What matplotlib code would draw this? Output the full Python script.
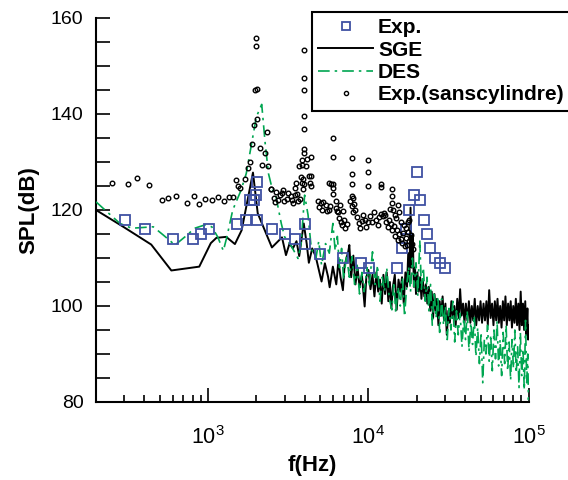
import matplotlib
matplotlib.use("Agg")
import matplotlib.pyplot as plt
import numpy as np

plt.rcParams['font.family'] = ['Liberation Sans', 'DejaVu Sans']

# Exp. (squares)
exp_f = [302, 402, 604, 809, 906, 1008, 1507, 1714, 1816, 1923, 1981, 2018, 2030,
         2502, 3015, 3497, 4040, 4040, 5003, 6966, 9020, 10020, 15130, 16100, 17140,
         17960, 19140, 20050, 21040, 22080, 23170, 24170, 26060, 28030, 30150]
exp_spl = [118.0, 116.0, 114.0, 114.0, 115.0, 116.0, 117.0, 118.0, 122.1, 122.1, 123.1, 125.9, 118.0,
           116.0, 115.0, 114.0, 117.0, 112.9, 110.9, 110.1, 109.0, 108.0, 108.0, 112.0, 116.0,
           120.0, 123.1, 127.9, 122.0, 118.0, 115.0, 112.0, 110.0, 109.0, 108.0]

# SGE (black line)
sge_f = [200, 296, 442, 590, 881, 1040, 1127, 1297, 1470, 1620, 1905, 2040, 2500, 2890,
         3060, 3220, 3380, 3560, 3700, 3950, 4120, 4250, 4460, 4690, 5100, 5350, 5600, 5730,
         6000, 6300, 6500, 6700, 6930, 7100, 7480, 7600, 7800, 8050, 8300, 8550, 8800, 9100,
         9470, 9700, 10000, 10300, 10600, 10900, 11200, 11500, 11800, 12100, 12400, 12700,
         13000, 13300, 13600, 13900, 14200, 14600, 15000, 15400, 15800, 16200, 16600, 17000,
         17400, 17700, 18000, 18300, 18600, 18900, 19200, 19500, 19800, 20200, 20600, 21000,
         21400, 21800, 22300, 22800, 23300, 23800, 24300, 24800, 25300, 25800, 26300, 26800,
         27300, 27800, 28400, 29000, 29600, 30200, 30800, 31500, 32200, 32900, 33600, 34300,
         35000, 35800, 36600, 37300, 38100, 38900, 39700, 40500, 41400, 42300, 43200, 44100,
         45000, 46000, 47000, 48000, 49000, 50000, 51100, 52200, 53300, 54400, 55500, 56600,
         57800, 59000, 60200, 61400, 62600, 63800, 65000, 66300, 67600, 68900, 70200, 71500,
         72900, 74300, 75700, 77100, 78500, 80000, 81500, 83000, 84500, 86000, 87500, 89000,
         90500, 92000, 93500, 95000, 96500, 98000, 99000, 100000]
sge_spl = [120.0, 116.5, 112.8, 107.4, 108.2, 113.1, 114.2, 114.4, 112.9, 115.8, 127.8, 119.3, 112.2, 114.3,
           110.6, 113.0, 112.0, 113.5, 110.4, 117.2, 113.0, 109.0, 112.0, 110.3, 105.1, 108.9, 106.1, 103.9,
           108.2, 104.5, 109.5, 106.0, 103.3, 108.5, 111.3, 112.7, 106.0, 110.5, 104.5, 108.0, 104.0, 106.5,
           99.9, 106.0, 107.5, 103.5, 106.5, 102.0, 107.0, 103.0, 105.5, 100.5, 106.5, 102.5,
           107.0, 101.0, 105.0, 99.5, 104.0, 106.5, 99.2, 105.5, 103.0, 106.0, 100.5, 107.0,
           104.0, 111.0, 105.0, 120.5, 108.0, 115.0, 104.0, 108.0, 102.5, 107.0, 103.0, 106.0,
           101.5, 105.5, 102.0, 104.5, 100.5, 104.0, 99.0, 103.0, 97.5, 102.5, 99.0, 101.5,
           96.0, 101.0, 98.0, 102.0, 97.0, 100.5, 94.0, 99.0, 96.5, 101.0, 97.5, 100.0,
           96.0, 101.5, 97.5, 103.5, 98.0, 100.5, 96.5, 100.5, 97.0, 101.0, 96.5, 100.0,
           97.0, 101.5, 96.0, 100.0, 97.0, 101.0, 96.5, 100.5, 97.0, 101.0, 96.0, 103.3,
           97.5, 100.5, 96.0, 101.0, 97.0, 101.5, 96.5, 100.0, 95.5, 101.0, 97.0, 102.0,
           96.0, 100.5, 97.0, 101.0, 95.5, 100.0, 96.5, 101.5, 96.0, 100.5, 95.0, 103.0,
           96.0, 100.5, 95.0, 101.0, 94.0, 99.5, 93.0, 96.0]

# DES (green dash-dot line)
des_f = [200, 282, 334, 455, 525, 622, 717, 825, 957, 1055, 1148, 1245, 1310, 1425, 1600,
         1730, 1870, 2000, 2160, 2270, 2380, 2520, 2650, 2860, 3000, 3280, 3640, 3800, 4000,
         4200, 4400, 4700, 4900, 5100, 5400, 5700, 6000, 6200, 6400, 6600, 6800, 7000, 7300,
         7600, 7900, 8200, 8500, 8800, 9100, 9400, 9800, 10100, 10600, 11000, 11400, 11800,
         12200, 12600, 13000, 13500, 14000, 14400, 14800, 15300, 15800, 16300, 16800, 17300,
         17800, 18300, 18800, 19300, 19800, 20300, 20900, 21400, 22000, 22600, 23200, 23800,
         24400, 25000, 25700, 26400, 27100, 27800, 28600, 29400, 30200, 31000, 31800, 32700,
         33600, 34500, 35400, 36300, 37300, 38300, 39300, 40300, 41300, 42400, 43500, 44600,
         45700, 46800, 48000, 49200, 50400, 51600, 52800, 54000, 55300, 56600, 57900, 59200,
         60600, 62000, 63400, 64800, 66200, 67700, 69200, 70700, 72200, 73800, 75400, 77000,
         78600, 80200, 81800, 83500, 85200, 86900, 88600, 90300, 92000, 93700, 95400, 97000,
         98500, 99500, 100000]
des_spl = [121.7, 117.2, 116.2, 116.5, 114.8, 112.7, 114.4, 116.2, 116.9, 116.5, 114.4, 111.5, 114.4, 120.0, 124.0,
           127.6, 133.9, 139.4, 142.0, 133.9, 127.6, 124.2, 122.8, 117.2, 114.4, 112.7, 109.9, 113.0, 123.1,
           119.0, 112.0, 109.9, 113.5, 108.5, 113.0, 111.0, 117.2, 111.5, 114.5, 108.0, 112.0, 105.5, 110.5,
           106.0, 110.3, 104.5, 108.5, 102.5, 107.0, 103.0, 108.0, 104.0, 111.3, 104.5, 108.5, 101.0,
           106.0, 103.0, 108.0, 101.5, 99.2, 105.0, 98.5, 104.0, 100.0, 106.0, 97.8, 104.0,
           108.2, 103.0, 110.0, 104.0, 109.0, 102.0, 113.7, 103.5, 108.0, 101.0, 106.0, 99.0,
           104.5, 96.0, 103.0, 97.5, 102.0, 94.5, 101.5, 96.0, 100.0, 93.0, 99.5, 95.0,
           101.0, 92.5, 99.0, 94.0, 98.5, 91.5, 97.5, 93.0, 99.0, 90.5, 96.5, 92.0,
           98.0, 89.5, 95.5, 88.0, 94.5, 84.0, 93.0, 90.0, 96.0, 88.5, 94.0, 86.5,
           95.0, 89.0, 97.0, 87.5, 93.0, 85.5, 94.5, 88.0, 96.0, 86.5, 92.5, 84.5,
           93.0, 87.0, 95.0, 86.0, 91.5, 83.0, 94.5, 85.5, 91.0, 82.5, 97.0, 84.0,
           90.0, 80.5, 81.0]

# Exp.(sanscylindre) (small circles)
ref_f = [251, 318, 362, 428, 518, 562, 634, 739, 813, 877, 957, 1062, 1147, 1262, 1343, 1422,
         1500, 1530, 1580, 1700, 1765, 1816, 1870, 1934, 1950, 1981, 1997, 2018, 2030, 2109, 2180,
         2262, 2318, 2350, 2455, 2478, 2560, 2620, 2670, 2740, 2800, 2880, 2930, 2990, 3090, 3150,
         3270, 3350, 3400, 3480, 3500, 3550, 3580, 3650, 3690, 3750, 3790, 3830, 3830, 3866, 3920,
         3920, 3950, 3950, 3960, 3970, 3960, 3980, 3940, 3990, 4100, 4160, 4250, 4350, 4360, 4400,
         4410, 4840, 4890, 5030, 5110, 5240, 5440, 5540, 5680, 5710, 5790, 5850, 5980, 5980, 6000,
         6050, 6050, 6280, 6380, 6300, 6450, 6550, 6600, 6700, 6850, 6900, 7000, 7150, 7300,
         7700, 7850, 7900, 8000, 8000, 8150, 8300, 7930, 7930, 7950, 8500, 8700, 8900, 9100,
         9300, 9500, 9700, 9900, 9970, 10000, 9950, 10200, 10500, 10800, 11100, 11400, 11700,
         11900, 11950, 12000, 12300, 12500, 12700, 12900, 13200, 13500, 13600, 13800, 14000,
         14000, 14000, 14100, 14300, 14400, 14600, 14700, 14900, 15000, 15200, 15300, 15500,
         15600, 15900, 16000, 16200, 16500, 16600, 16800, 17100, 17200, 17400, 17600, 17700,
         17900, 18000, 18300, 18600, 18900]
ref_spl = [125.6, 125.4, 126.7, 125.2, 122.1, 122.5, 123.0, 121.5, 123.0, 121.3, 122.2, 122.1, 122.8, 121.9, 122.7, 122.7,
           126.3, 125.1, 124.5, 126.5, 128.8, 129.9, 133.7, 137.7, 144.9, 155.9, 154.2, 145.2, 138.9, 133.0, 129.4,
           131.9, 136.2, 129.1, 124.3, 124.4, 122.5, 121.6, 123.7, 122.0, 123.1, 123.5, 124.2, 121.9, 122.2, 123.6,
           122.9, 122.1, 121.5, 124.5, 123.1, 125.6, 123.4, 121.8, 129.2, 122.3, 126.9, 125.6, 129.4, 130.4, 126.4,
           124.3, 125.4, 131.9, 153.4, 147.6, 144.9, 139.6, 136.9, 132.8, 129.2, 130.6, 127.1, 125.6, 131.1, 124.9,
           127.1, 121.9, 120.7, 121.4, 120.1, 121.7, 121.0, 119.7, 120.0, 125.7, 120.8, 125.4, 134.9, 131.0, 125.5,
           124.5, 123.4, 121.9, 119.7, 120.5, 119.5, 118.3, 121.0, 117.5, 116.8, 119.8, 118.0, 116.2, 117.0,
           121.8, 120.8, 123.0, 122.5, 119.5, 121.2, 120.0, 130.9, 127.6, 125.4, 118.5, 117.2, 116.3, 117.8,
           119.0, 118.0, 116.5, 117.5, 130.4, 127.9, 124.9, 118.8, 117.5, 119.5, 118.0, 116.8, 118.5,
           125.5, 124.7, 119.2, 118.7, 119.4, 118.9, 117.5, 116.5, 118.0, 120.2, 117.0, 124.4,
           122.9, 121.5, 115.8, 120.0, 116.7, 119.0, 114.5, 118.3, 115.8, 121.0, 113.8, 119.5,
           115.0, 114.0, 117.6, 113.2, 115.2, 116.8, 112.5, 114.2, 116.2, 112.8, 117.5, 115.5,
           113.5, 118.0, 114.8, 113.0, 111.8]

fig = plt.figure(figsize=(5.68, 4.8), dpi=100)
ax = fig.add_axes([0.169, 0.1625, 0.762, 0.80])

ax.plot(sge_f, sge_spl, color='black', lw=1.4, label='SGE', zorder=2)
ax.plot(des_f, des_spl, color='#00a651', lw=1.2, linestyle=(0, (7, 3, 1.5, 3)), label='DES', zorder=3)
ax.plot(exp_f, exp_spl, linestyle='none', marker='s', ms=7, mfc='none', mec='#3f51a3', mew=1.3,
        label='Exp.', zorder=4)
ax.plot(ref_f, ref_spl, linestyle='none', marker='o', ms=3.3, mfc='none', mec='black', mew=1.0,
        label='Exp.(sanscylindre)', zorder=5)

ax.set_xscale('log')
ax.set_xlim(200, 1e5)
ax.set_ylim(80, 160)
ax.set_yticks([80, 100, 120, 140, 160])
ax.set_yticks(np.arange(80, 161, 5), minor=True)

for s in ['top', 'right']:
    ax.spines[s].set_visible(False)
for s in ['left', 'bottom']:
    ax.spines[s].set_linewidth(1.5)

ax.tick_params(axis='both', which='both', direction='in', width=1.2)
ax.tick_params(axis='y', which='both', length=10, labelsize=14, pad=9)
ax.tick_params(axis='x', which='major', length=10, labelsize=15.5, pad=17)
ax.tick_params(axis='x', which='minor', length=5)

ax.set_xlabel('f(Hz)', fontsize=16, fontweight='bold', labelpad=5)
ax.set_ylabel('SPL(dB)', fontsize=16, fontweight='bold', labelpad=8)

handles, labels = ax.get_legend_handles_labels()
order = [2, 0, 1, 3]
leg = ax.legend([handles[i] for i in order], [labels[i] for i in order],
                loc='upper left', bbox_to_anchor=(312 / 568, 1 - 12 / 480),
                bbox_transform=fig.transFigure, borderaxespad=0, fancybox=False,
                edgecolor='black', framealpha=1, handlelength=2.6, handletextpad=0.25,
                labelspacing=0.16, borderpad=0.3, prop={'weight': 'bold', 'size': 15.1})
leg.get_frame().set_linewidth(1.5)
leg.legend_handles[0].set_markersize(5.5)
leg.legend_handles[3].set_markersize(3)

fig.savefig('out.png', dpi=100)
